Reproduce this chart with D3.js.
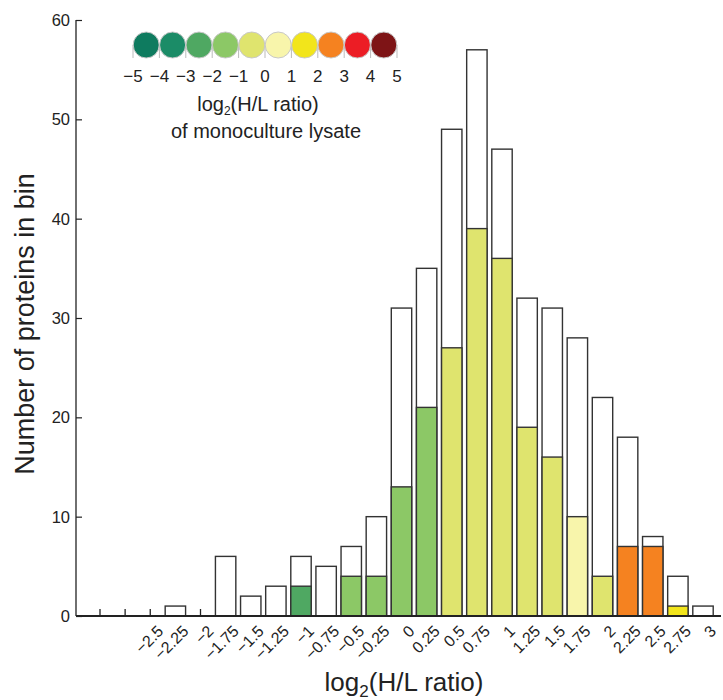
<!DOCTYPE html>
<html>
<head>
<meta charset="utf-8">
<script src="https://cdn.jsdelivr.net/npm/d3@7"></script>
<style>
  html, body { margin: 0; padding: 0; background: #fff; }
  svg { display: block; font-family: "Liberation Sans", Arial, Helvetica, sans-serif; }
</style>
</head>
<body>
<svg id="chart" width="723" height="700"></svg>
<script>
// Histogram bins of log2(H/L ratio), step 0.25
const binCenters = [-3, -2.75, -2.5, -2.25, -2, -1.75, -1.5, -1.25, -1, -0.75, -0.5, -0.25,
                    0, 0.25, 0.5, 0.75, 1, 1.25, 1.5, 1.75, 2, 2.25, 2.5, 2.75, 3];
const binLabels = ["", "", "−2.5", "−2.25", "−2", "−1.75", "−1.5", "−1.25", "−1", "−0.75", "−0.5", "−0.25",
                   "0", "0.25", "0.5", "0.75", "1", "1.25", "1.5", "1.75", "2", "2.25", "2.5", "2.75", "3"];
// All proteins in each bin
const totalCounts = [0, 0, 0, 1, 0, 6, 2, 3, 6, 5, 7, 10,
                     31, 35, 49, 57, 47, 32, 31, 28, 22, 18, 8, 4, 1];
// Proteins also quantified in the monoculture lysate
const monoCounts = [0, 0, 0, 0, 0, 0, 0, 0, 3, 0, 4, 4,
                    13, 21, 27, 39, 36, 19, 16, 10, 4, 7, 7, 1, 0];
// Monoculture log2 ratio class of each bin (sets the fill colour)
const monoRatio = [null, null, null, null, null, null, null, null, -2.5, null, -1.5, -1.5,
                   -1.5, -1.5, -0.5, -0.5, -0.5, -0.5, -0.5, 0.5, -0.5, 2.5, 2.5, 1.5, null];

// Colour key
const keyTicks = [-5, -4, -3, -2, -1, 0, 1, 2, 3, 4, 5];
const keyTickLabels = ["−5", "−4", "−3", "−2", "−1", "0", "1", "2", "3", "4", "5"];
const keyColors = ["#0e7b5f", "#1b8c67", "#4fa862", "#8cc866", "#dfe46e",
                   "#f8f5ab", "#f2e51b", "#f58220", "#ec1d25", "#7e1416"];
const yTicks = [0, 10, 20, 30, 40, 50, 60];

const svg = d3.select("#chart");

const x = d3.scaleLinear().domain([-3, 3]).range([100, 703]);
const y = d3.scaleLinear().domain([0, 60]).range([616, 20]);
const color = d3.scaleThreshold().domain([-4, -3, -2, -1, 0, 1, 2, 3, 4]).range(keyColors);
const barW = 20.4;

const bins = binCenters.map((c, i) => ({
  c, label: binLabels[i], total: totalCounts[i], mono: monoCounts[i], ratio: monoRatio[i]
}));

// small tick at every bin centre (visible where the bin is empty)
svg.append("g").selectAll("line").data(bins).join("line")
  .attr("x1", d => x(d.c)).attr("x2", d => x(d.c))
  .attr("y1", y(0)).attr("y2", y(0) - 7)
  .attr("stroke", "#222").attr("stroke-width", 1.3);

// total bars (white)
svg.append("g").selectAll("rect").data(bins.filter(d => d.total > 0)).join("rect")
  .attr("x", d => x(d.c) - barW / 2).attr("width", barW)
  .attr("y", d => y(d.total)).attr("height", d => y(0) - y(d.total))
  .attr("fill", "#fff").attr("stroke", "#333").attr("stroke-width", 1.4);

// monoculture bars (coloured)
svg.append("g").selectAll("rect").data(bins.filter(d => d.mono > 0)).join("rect")
  .attr("x", d => x(d.c) - barW / 2).attr("width", barW)
  .attr("y", d => y(d.mono)).attr("height", d => y(0) - y(d.mono))
  .attr("fill", d => color(d.ratio)).attr("stroke", "#333").attr("stroke-width", 1.4);

// y axis
const yAxis = svg.append("g").attr("transform", "translate(76,0)");
yAxis.call(d3.axisRight(y).tickValues(yTicks).tickSize(6).tickFormat(""))
  .call(g => g.select(".domain").remove())
  .selectAll("line").attr("stroke", "#222").attr("stroke-width", 1.2);
yAxis.append("line").attr("x1", 0).attr("x2", 0).attr("y1", y(60)).attr("y2", y(0))
  .attr("stroke", "#222").attr("stroke-width", 1.3);
yAxis.selectAll("text.yl").data(yTicks).join("text").attr("class", "yl")
  .attr("x", -6).attr("y", d => y(d)).attr("dy", "0.36em")
  .attr("text-anchor", "end").attr("font-size", 16.5).attr("fill", "#222")
  .text(d => d);

// x axis baseline
svg.append("line").attr("x1", 76).attr("x2", 721).attr("y1", y(0)).attr("y2", y(0))
  .attr("stroke", "#222").attr("stroke-width", 2);

// rotated bin labels
svg.append("g").selectAll("text").data(bins).join("text")
  .attr("transform", d => `translate(${x(d.c) + 6},${y(0) + 8}) rotate(-45)`)
  .attr("text-anchor", "end").attr("dy", "0.72em")
  .attr("font-size", 16).attr("fill", "#222")
  .text(d => d.label);

// axis titles
const xt = svg.append("text").attr("x", 404).attr("y", 691)
  .attr("text-anchor", "middle").attr("font-size", 26).attr("fill", "#222");
xt.append("tspan").text("log");
xt.append("tspan").attr("font-size", 17).attr("dy", 6).text("2");
xt.append("tspan").attr("dy", -6).text("(H/L ratio)");

svg.append("text")
  .attr("transform", "translate(34,324) rotate(-90)")
  .attr("text-anchor", "middle").attr("font-size", 27).attr("fill", "#222")
  .text("Number of proteins in bin");

// colour key
const k = d3.scaleLinear().domain([-5, 5]).range([133, 397]);
const key = svg.append("g");
key.selectAll("line").data(keyTicks).join("line")
  .attr("x1", d => k(d)).attr("x2", d => k(d))
  .attr("y1", 45).attr("y2", 58)
  .attr("stroke", "#bbb").attr("stroke-width", 1);
key.selectAll("circle").data(keyColors).join("circle")
  .attr("cx", (d, i) => k(keyTicks[i] + 0.5)).attr("cy", 45).attr("r", 13)
  .attr("fill", d => d).attr("stroke", "#c8c8c8").attr("stroke-width", 1);
key.selectAll("text").data(keyTicks).join("text")
  .attr("x", d => k(d)).attr("y", 82)
  .attr("text-anchor", "middle").attr("font-size", 17).attr("fill", "#222")
  .text((d, i) => keyTickLabels[i]);

const kt = key.append("text").attr("x", 258).attr("y", 111)
  .attr("text-anchor", "middle").attr("font-size", 20).attr("fill", "#222");
kt.append("tspan").text("log");
kt.append("tspan").attr("font-size", 12).attr("dy", 4).text("2");
kt.append("tspan").attr("dy", -4).text("(H/L ratio)");
key.append("text").attr("x", 266).attr("y", 138)
  .attr("text-anchor", "middle").attr("font-size", 20).attr("fill", "#222")
  .text("of monoculture lysate");
</script>
</body>
</html>
